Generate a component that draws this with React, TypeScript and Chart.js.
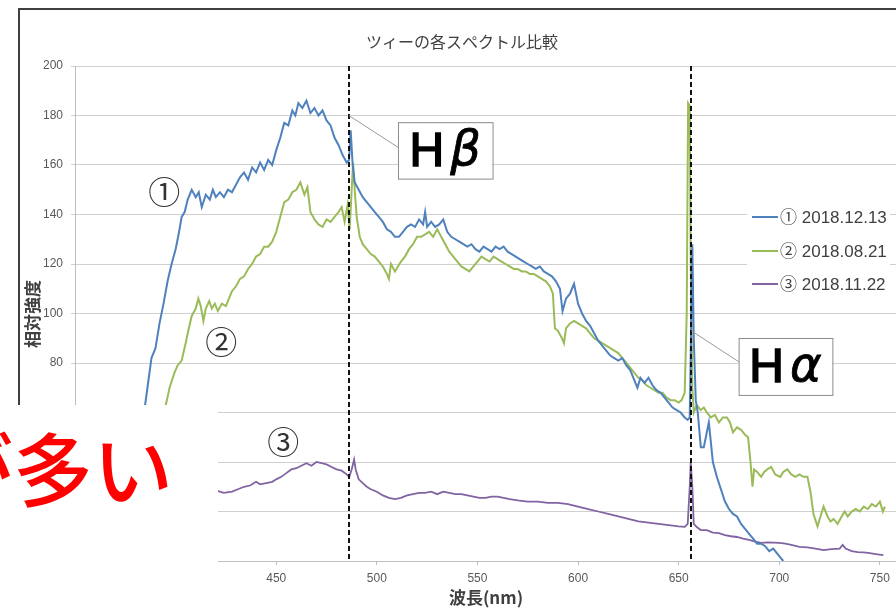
import React, { useEffect, useRef } from "react";
import { Chart, registerables } from "chart.js";
Chart.register(...registerables);

// ---------- data ----------
const chartTitle = "ツィーの各スペクトル比較";
const yTitle = "相対強度";
const xTitle = "波長(nm)";
const seriesLabels = ["① 2018.12.13", "② 2018.08.21", "③ 2018.11.22"];
const seriesColors = ["#4F81BD", "#9BBB59", "#8064A2"];
const lineHb = 486.1;
const lineHa = 656.3;
const noteText = "が多い";

const wl1 = [370, 375, 380, 384, 386, 388, 390, 392, 394, 396, 398, 400, 401.5, 403, 404.5, 406, 408, 410, 411.5, 413, 415, 417, 418.5, 420, 422, 424, 426, 428, 430, 432, 434, 436, 438, 440, 442, 444, 446, 448, 450, 452, 454, 456, 458, 459.5, 461, 463, 465, 467, 469, 471, 473, 475, 477, 479, 481, 483, 485, 486.2, 487, 488, 489, 491, 493, 495, 497, 499, 501, 503, 505, 507, 509, 511, 513, 515, 517, 519, 521, 523, 524, 525, 527, 529, 531, 533, 535, 537, 539, 541, 543, 545, 547, 549, 551, 553, 555, 557, 559, 561, 563, 565, 567, 569, 571, 573, 575, 577, 579, 581, 583, 585, 587, 589, 591, 592.3, 594, 596, 598, 600, 602, 604, 606, 608, 610, 612, 614, 616, 618, 620, 622, 624, 626, 628, 629.5, 631, 633, 635, 637, 639, 641, 643, 645, 647, 649, 651, 653, 654.5, 655.5, 656.3, 656.8, 657.5, 658.5, 659.5, 661, 662.5, 664, 665, 666, 667, 669, 671, 673, 675, 677, 679, 681, 683, 685, 687, 689, 691, 693, 695, 697, 699, 701, 702];
const v1 = [10, 22, 40, 58, 70, 82, 86, 96, 104, 113, 120, 126, 132, 139, 141, 146, 150, 147, 149, 143, 148, 146, 150, 147, 149, 147, 150, 149, 152, 155, 157, 154, 159, 157, 161, 158, 162, 160, 166, 171, 177, 176, 182, 180, 185, 183, 186, 181, 183, 180, 182, 178, 176, 171, 168, 164, 161, 162, 174, 160, 153, 150, 147, 145, 143, 141, 139, 137, 134, 133, 131, 131, 133, 135, 136, 135, 138, 136, 141, 135, 137, 135, 136, 138, 133, 131, 130, 129, 128, 127, 128, 126, 125, 127, 126, 125, 127, 126, 127, 125, 124, 123, 122, 121, 120, 119, 118, 119, 117, 116, 115, 113, 110, 101, 106, 108, 112, 104, 100, 97, 95, 92, 89, 87, 85, 83, 82, 81, 82, 79, 77, 73, 70, 74, 72, 74, 71, 69, 68, 66, 64, 62, 61, 60, 58, 57, 58, 100, 128, 90, 65, 60, 46, 46, 52, 56, 48, 40, 34, 29, 24, 21, 19, 18, 15, 13, 11, 9, 7, 7, 6, 4, 5, 3, 1, 0];

const wl2 = [385, 388, 391, 393, 395.4, 397, 399.4, 401, 403, 405, 406.3, 408, 410, 411.3, 412.5, 413.8, 415, 416.7, 418, 419.5, 421, 423, 425, 426.5, 428, 430, 432, 434, 436, 438, 440, 442, 444, 446, 448, 450, 452, 454, 456, 458, 460, 462, 464, 465.5, 467, 469, 471, 473, 475, 477, 479, 481, 482.5, 484, 485.5, 486.5, 487.5, 488.2, 489, 490, 491.5, 493, 495, 497, 499, 501, 503, 505, 506, 507, 509, 510.5, 512, 514, 516, 518, 520, 522, 524, 526, 528, 530, 532, 534, 536, 538, 540, 542, 544, 546, 548, 550, 552, 554, 556, 558, 560, 562, 564, 566, 568, 570, 572, 574, 576, 578, 580, 582, 584, 586, 587.5, 588.5, 590, 592, 593, 594, 596, 598, 600, 602, 604, 606, 608, 610, 612, 614, 616, 618, 620, 622, 624, 626, 628, 630, 632, 634, 636, 638, 640, 642, 644, 646, 648, 650, 651.5, 653, 654, 654.7, 655.5, 656, 656.8, 657.5, 659, 661, 662.5, 664, 666, 668, 670, 672, 674, 675.5, 677, 679, 681, 683, 684.5, 685.7, 686.7, 687.5, 689, 691, 692.5, 694, 696, 698, 700.5, 702, 704, 706, 708, 710, 712, 714, 715.5, 717, 719, 720.5, 722, 724, 725.5, 727, 729, 731, 732.5, 734, 736, 738, 740, 742, 744, 746, 748, 750, 751.5, 752.5];
const v2 = [30, 40, 50, 56, 64, 70, 76, 79, 81, 88, 93, 99, 102, 106, 103, 97, 102, 105, 102, 104, 101, 104, 103, 106, 109, 111, 114, 115, 118, 120, 123, 124, 127, 127, 129, 133, 139, 145, 146, 149, 150, 153, 148, 151, 141, 138, 136, 135, 138, 137, 139, 141, 143, 137, 144, 134, 150, 161, 150, 139, 131, 128, 126, 124, 123, 121, 119, 116, 114, 120, 117, 119, 121, 123, 126, 128, 131, 131, 132, 133, 131, 134, 131, 128, 125, 123, 121, 119, 118, 117, 119, 121, 123, 122, 121, 123, 122, 121, 120, 119, 118, 118, 117, 117, 116, 116, 115, 114, 113, 111, 108, 94, 93, 90, 88, 94, 96, 97, 96, 95, 94, 92, 90, 89, 88, 87, 86, 85, 84, 82, 80, 78, 76, 74, 73, 71, 70, 69, 68, 68, 66, 65, 65, 64, 65, 68, 100, 185, 184, 120, 70, 60, 63, 61, 62, 60, 58, 59, 56, 58, 58, 56, 52, 54, 53, 51, 50, 40, 30, 37, 36, 34, 36, 37, 38, 35, 34, 36, 37, 35, 34, 35, 34, 34, 28, 19, 14, 18, 22, 18, 16, 17, 15, 18, 20, 18, 20, 21, 20, 22, 21, 23, 22, 24, 20, 22];

const wl3 = [380, 390, 400, 410, 416, 420, 424, 428, 431, 434, 437, 440, 442, 445, 448, 450, 452.5, 455, 457.5, 460, 462.5, 465, 467.5, 470, 472.5, 475, 477.5, 480, 482.5, 485, 486.3, 487.5, 488.7, 489.5, 491, 493, 495, 497, 500, 503, 506, 509, 512, 515, 518, 521, 524, 527, 530, 533, 536, 539, 542, 545, 548, 551, 554, 557, 560, 563, 566, 570, 575, 580, 585, 590, 595, 600, 605, 610, 615, 620, 625, 630, 635, 640, 645, 650, 653, 654.5, 655.5, 656, 656.8, 657.5, 659, 661, 664, 667, 670, 673, 676, 679, 682, 685, 688, 691, 694, 697, 700, 703, 706, 710, 714, 718, 722, 726, 730, 731.5, 733, 736, 739, 742, 745, 748, 751.7];
const v3 = [22, 24, 26, 27, 27, 28.5, 27.5, 28, 29, 30, 30.5, 32, 31, 31.5, 32, 33, 34, 35.5, 37, 37.5, 38.5, 39.5, 38.5, 40, 39.5, 39, 38, 37, 36.5, 35, 34, 37, 41, 37, 33, 31.5, 30, 29, 28, 26.5, 25.5, 25, 25.5, 26.5, 27, 27.5, 27.5, 28, 27, 28, 27.5, 27, 27, 26.5, 26, 25.5, 25.5, 26, 26, 25.5, 25, 24.5, 24, 24, 23.5, 23.5, 23, 22, 21, 20, 19, 18, 17, 16, 15.5, 15, 14.5, 14, 13.8, 15, 30, 40, 30, 15, 13.7, 12.5, 12.5, 11.5, 11.3, 10.5, 10, 9.7, 9, 8.5, 7.8, 7.3, 7.5, 7.4, 7.3, 7, 6.5, 5.7, 5.5, 5, 4.4, 4.8, 5, 6.5, 5, 4, 3.6, 3.5, 3.2, 2.8, 2.4];

// annotation anchors (data coordinates)
const circleNotes = [
  { t: "①", x: 394.4, y: 149 },
  { t: "②", x: 422.7, y: 88.5 },
  { t: "③", x: 453.5, y: 48 },
];
const callouts = [
  { main: "H", greek: "β", ax: lineHb, ay: 180, lx: 511, ly: 166.9, x1: 510.5, x2: 557.5, y1: 177.3, y2: 154.5 },
  { main: "H", greek: "α", ax: lineHa, ay: 93, lx: 680.8, ly: 80, x1: 679.8, x2: 726.4, y1: 90.1, y2: 67.1 },
];

const CW = 930;
const CH = 620;
const CJK = "'Noto Sans CJK JP', 'Noto Sans', sans-serif";
const LAT = "'Liberation Sans', Arial, 'Noto Sans CJK JP', sans-serif";

const decor = {
  id: "decor",
  afterDraw(chart: any) {
    const ctx = chart.ctx as CanvasRenderingContext2D;
    const xs = chart.scales.x;
    const ys = chart.scales.y;
    const ca = chart.chartArea;
    const X = (v: number) => xs.getPixelForValue(v);
    const Y = (v: number) => ys.getPixelForValue(v);
    ctx.save();

    // dashed reference lines
    ctx.strokeStyle = "#111";
    ctx.lineWidth = 2;
    ctx.setLineDash([5, 3]);
    for (const w of [lineHb, lineHa]) {
      const px = Math.round(X(w));
      ctx.beginPath();
      ctx.moveTo(px, ca.top);
      ctx.lineTo(px, ca.bottom);
      ctx.stroke();
    }
    ctx.setLineDash([]);

    // callouts
    for (const c of callouts) {
      ctx.strokeStyle = "#9a9a9a";
      ctx.lineWidth = 1;
      ctx.beginPath();
      ctx.moveTo(X(c.ax), Y(c.ay));
      ctx.lineTo(X(c.lx), Y(c.ly));
      ctx.stroke();
      const bx = X(c.x1), by = Y(c.y1), bw = X(c.x2) - bx, bh = Y(c.y2) - by;
      ctx.fillStyle = "#fff";
      ctx.fillRect(bx, by, bw, bh);
      ctx.strokeStyle = "#8c8c8c";
      ctx.strokeRect(bx + 0.5, by + 0.5, bw, bh);
      ctx.fillStyle = "#000";
      ctx.textBaseline = "middle";
      ctx.textAlign = "left";
      const fMain = `48px ${LAT}`;
      const fGreek = `italic 48px 'DejaVu Sans', ${LAT}`;
      ctx.font = fMain;
      const wH = ctx.measureText(c.main).width;
      ctx.font = fGreek;
      const wG = ctx.measureText(c.greek).width;
      const gap = 6;
      const tot = wH + gap + wG;
      const sx = bx + bw / 2 - tot / 2;
      const cy = by + bh / 2 + 2;
      ctx.font = fMain;
      ctx.fillText(c.main, sx, cy);
      ctx.strokeStyle = "#000";
      ctx.lineWidth = 1.6;
      ctx.strokeText(c.main, sx, cy);
      ctx.font = fGreek;
      ctx.fillText(c.greek, sx + wH + gap, cy);
      ctx.lineWidth = 0.8;
      ctx.strokeText(c.greek, sx + wH + gap, cy);
    }

    // circled notes
    ctx.fillStyle = "#333";
    ctx.textAlign = "center";
    ctx.textBaseline = "middle";
    ctx.font = `32px ${CJK}`;
    for (const n of circleNotes) ctx.fillText(n.t, X(n.x), Y(n.y));

    // legend
    ctx.fillStyle = "#fff";
    ctx.fillRect(747, 199, 143, 102);
    const rows = [217, 251, 284];
    ctx.font = `17px ${LAT}`;
    ctx.textAlign = "left";
    ctx.textBaseline = "middle";
    seriesLabels.forEach((lab, i) => {
      ctx.strokeStyle = seriesColors[i];
      ctx.lineWidth = 2;
      ctx.beginPath();
      ctx.moveTo(752, rows[i]);
      ctx.lineTo(778, rows[i]);
      ctx.stroke();
      ctx.fillStyle = "#404040";
      ctx.fillText(lab, 780, rows[i] + 1);
    });

    // title
    ctx.fillStyle = "#404040";
    ctx.textAlign = "center";
    ctx.font = `16px ${CJK}`;
    ctx.fillText(chartTitle, 462, 42);

    // axis titles
    ctx.font = `bold 17px ${CJK}`;
    ctx.fillText(xTitle, 486, 598);
    ctx.save();
    ctx.translate(33, 314);
    ctx.rotate(-Math.PI / 2);
    ctx.fillText(yTitle, 0, 0);
    ctx.restore();

    // outer frame
    ctx.strokeStyle = "#404040";
    ctx.lineWidth = 2;
    ctx.strokeRect(19, 9, 1000, 1000);
    ctx.restore();
  },
};

export default function App() {
  const ref = useRef<HTMLCanvasElement | null>(null);
  useEffect(() => {
    if (!ref.current) return;
    const mk = (wl: number[], v: number[]) => wl.map((x, i) => ({ x, y: v[i] }));
    const chart = new Chart(ref.current, {
      type: "line",
      data: {
        datasets: [
          { label: seriesLabels[0], data: mk(wl1, v1), borderColor: seriesColors[0], borderWidth: 2, pointRadius: 0, tension: 0 },
          { label: seriesLabels[1], data: mk(wl2, v2), borderColor: seriesColors[1], borderWidth: 2, pointRadius: 0, tension: 0 },
          { label: seriesLabels[2], data: mk(wl3, v3), borderColor: seriesColors[2], borderWidth: 1.8, pointRadius: 0, tension: 0 },
        ],
      },
      options: {
        responsive: false,
        animation: false,
        events: [],
        layout: { padding: { left: 0, top: 66, right: CW - 900, bottom: CH - 561 - 40 } },
        plugins: { legend: { display: false }, title: { display: false }, tooltip: { enabled: false } },
        scales: {
          x: {
            type: "linear",
            min: 350,
            max: 760,
            afterFit: (s: any) => { s.height = 40; },
            ticks: { stepSize: 50, includeBounds: false, color: "#595959", font: { size: 12, family: LAT }, padding: 6, maxRotation: 0 },
            grid: { drawOnChartArea: false, tickLength: 4, color: "#bfbfbf" },
            border: { color: "#bfbfbf" },
          },
          y: {
            min: 0,
            max: 200,
            afterFit: (s: any) => { s.width = 75; },
            ticks: { stepSize: 20, color: "#595959", font: { size: 12, family: LAT }, padding: 8 },
            grid: { color: "#d0d0d0", tickLength: 4 },
            border: { color: "#bfbfbf" },
          },
        },
      },
      plugins: [decor],
    });
    return () => chart.destroy();
  }, []);

  return (
    <div style={{ position: "fixed", left: 0, top: 0, width: 896, height: 609, overflow: "hidden", background: "#fff" }}>
      <canvas ref={ref} width={CW} height={CH} style={{ position: "absolute", left: 0, top: 0, width: CW, height: CH }} />
      <div style={{ position: "absolute", left: 0, top: 405, width: 218, height: 204, background: "#fff" }}>
        <span
          style={{
            position: "absolute",
            left: -67,
            top: 20,
            fontFamily: CJK,
            fontWeight: 500,
            fontSize: 80,
            lineHeight: "80px",
            color: "#ff0000",
            whiteSpace: "nowrap",
          }}
        >
          {noteText}
        </span>
      </div>
    </div>
  );
}
